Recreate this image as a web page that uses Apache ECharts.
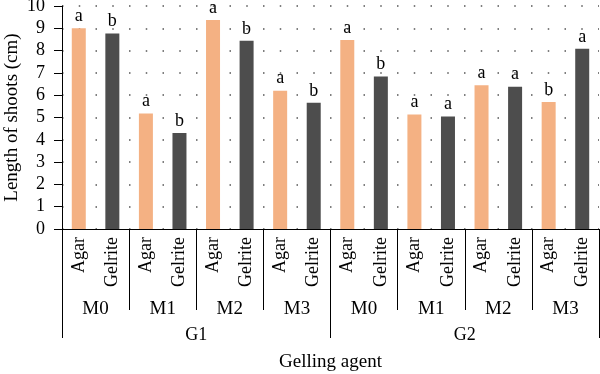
<!DOCTYPE html>
<html>
<head>
<meta charset="utf-8">
<script src="https://cdn.jsdelivr.net/npm/echarts@6/dist/echarts.min.js"></script>
<style>html,body{margin:0;padding:0;background:#fff;}#c{width:600px;height:374px;}</style>
</head>
<body>
<div id="c"></div>
<script>
// Data
var agents = ['Agar', 'Gelrite'];
var mediums = ['M0', 'M1', 'M2', 'M3'];
var groups = ['G1', 'G2'];
var agarValues = [9.0, 5.18, 9.37, 6.2, 8.47, 5.14, 6.45, 5.7];
var gelriteValues = [8.77, 4.3, 8.44, 5.66, 6.84, 5.05, 6.38, 8.08];
var agarLetters = ['a', 'a', 'a', 'a', 'a', 'a', 'a', 'b'];
var gelriteLetters = ['b', 'b', 'b', 'b', 'b', 'a', 'a', 'a'];
var yTicks = [0, 1, 2, 3, 4, 5, 6, 7, 8, 9, 10];

var FONT = 'Liberation Serif';
var AGAR_COLOR = '#F4B183';
var GEL_COLOR = '#4D4D4D';

// Build interleaved categories and values
var cats = [], vals = [], letters = [], kinds = [];
for (var i = 0; i < agarValues.length; i++) {
  cats.push(agents[0] + '_' + i); vals.push(agarValues[i]); letters.push(agarLetters[i]); kinds.push(0);
  cats.push(agents[1] + '_' + i); vals.push(gelriteValues[i]); letters.push(gelriteLetters[i]); kinds.push(1);
}
var mCats = [];
groups.forEach(function (g) { mediums.forEach(function (m) { mCats.push(m); }); });

var chart = echarts.init(document.getElementById('c'), null, { renderer: 'canvas' });
chart.setOption({
  animation: false,
  grid: { left: 62, right: 1, top: 6, bottom: 145, containLabel: false, outerBoundsMode: 'none' },
  xAxis: [
    {
      type: 'category', data: cats, position: 'bottom',
      axisLine: { show: true, lineStyle: { color: '#000', width: 1 } },
      axisTick: { show: false },
      axisLabel: {
        interval: 0, rotate: 90, margin: 8,
        fontFamily: FONT, fontSize: 18, color: '#000',
        formatter: function (v) { return v.split('_')[0]; }
      },
      splitLine: { show: false }
    },
    {
      type: 'category', data: mCats, position: 'bottom', offset: 0,
      axisLine: { show: false },
      axisTick: { show: true, interval: 0, length: 81, lineStyle: { color: '#000', width: 1 } },
      axisLabel: { interval: 0, margin: 71, fontFamily: FONT, fontSize: 19, color: '#000' },
      splitLine: { show: false }
    },
    {
      type: 'category', data: groups, position: 'bottom', offset: 0,
      axisLine: { show: false },
      axisTick: { show: true, interval: 0, length: 109, lineStyle: { color: '#000', width: 1 } },
      axisLabel: { interval: 0, margin: 97, fontFamily: FONT, fontSize: 18, color: '#000' },
      splitLine: { show: false },
      name: 'Gelling agent', nameLocation: 'middle', nameGap: 124, nameMoveOverlap: false,
      nameTextStyle: { fontFamily: FONT, fontSize: 19, color: '#000' }
    }
  ],
  yAxis: {
    type: 'value', min: yTicks[0], max: yTicks[yTicks.length - 1], interval: 1,
    axisLine: { show: true, lineStyle: { color: '#000', width: 1 } },
    axisTick: { show: true, length: 8, lineStyle: { color: '#000', width: 1 } },
    axisLabel: { margin: 17, fontFamily: FONT, fontSize: 18, color: '#000' },
    splitLine: { show: true, lineStyle: { color: '#555', width: 1.5, type: [1.5, 15.25] } },
    name: 'Length of shoots (cm)', nameLocation: 'middle', nameGap: 40, nameMoveOverlap: false,
    nameTextStyle: { fontFamily: FONT, fontSize: 19, color: '#000' }
  },
  series: [{
    type: 'bar', xAxisIndex: 0, data: vals, barWidth: 14,
    itemStyle: {
      color: function (p) { return kinds[p.dataIndex] === 0 ? AGAR_COLOR : GEL_COLOR; }
    },
    label: {
      show: true, position: 'top', distance: 3,
      fontFamily: FONT, fontSize: 18, color: '#000',
      formatter: function (p) { return letters[p.dataIndex]; }
    }
  }]
});
</script>
</body>
</html>
